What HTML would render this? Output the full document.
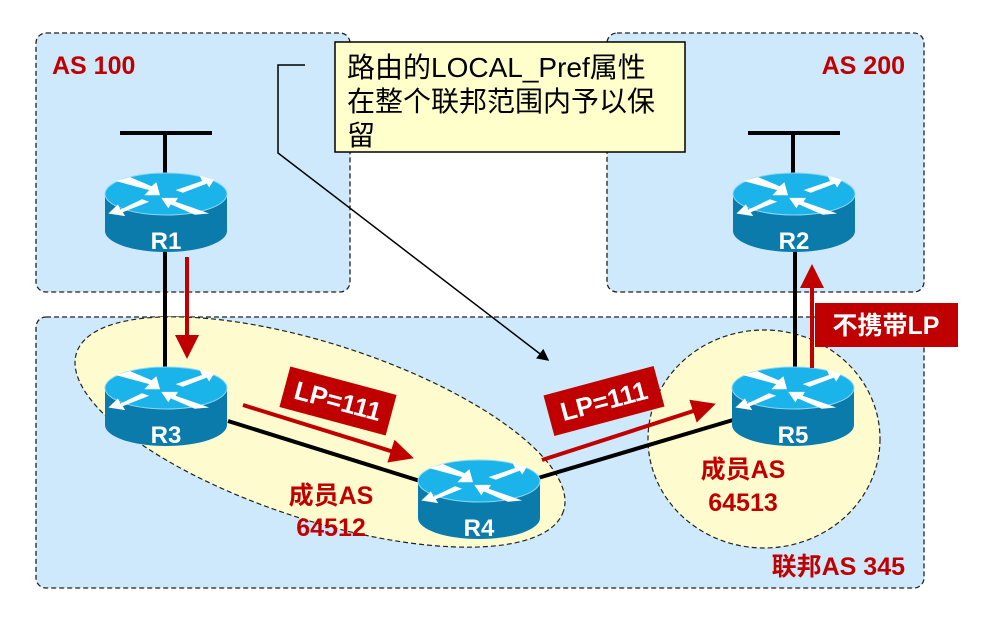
<!DOCTYPE html>
<html><head><meta charset="utf-8"><style>
body{margin:0;background:#fff;}
svg{display:block;}
text{font-family:"Liberation Sans","Noto Sans CJK SC",sans-serif;}
</style></head><body>
<svg width="990" height="617" viewBox="0 0 990 617" xmlns="http://www.w3.org/2000/svg">
<defs>
<marker id="ra" markerWidth="6" markerHeight="6" refX="5" refY="3" orient="auto" markerUnits="strokeWidth"><path d="M0,0 L6,3 L0,6 Z" fill="#c00000"/></marker>
<marker id="ka" markerWidth="8" markerHeight="8" refX="7" refY="4" orient="auto" markerUnits="strokeWidth"><path d="M0,0 L8,4 L0,8 Z" fill="#000"/></marker>
<g id="rt">
<path d="M-61,0 L-61,37 A61,21 0 0 0 61,37 L61,0 Z" fill="#0a7bab"/>
<ellipse cx="0" cy="0" rx="61" ry="21" fill="#1ab4ea" stroke="#8fd6f2" stroke-width="1"/>
<g fill="#fff" transform="scale(1.2 1.3)">
<path d="M-42,-10 L-30,-13 L-12,-6 L-8,-9 L-5,1 L-18,1 L-14,-3 Z"/>
<path d="M40,-11 L28,-14 L30,-10 L8,-3 L14,-1 L34,-8 L36,-5 Z"/>
<path d="M-20,4 L-38,12 L-40,8 L-48,15 L-34,17 L-36,14 L-14,6 Z"/>
<path d="M-4,3 L10,3 L8,6 L36,15 L24,16 L4,8 L2,11 Z"/>
</g>
</g>
</defs>
<rect x="36" y="33" width="314" height="259" rx="10" fill="#cde9fb" stroke="#222" stroke-width="1.3" stroke-dasharray="5,3"/>
<rect x="607" y="33" width="317" height="259" rx="10" fill="#cde9fb" stroke="#222" stroke-width="1.3" stroke-dasharray="5,3"/>
<rect x="36" y="317" width="888" height="271" rx="10" fill="#cde9fb" stroke="#222" stroke-width="1.3" stroke-dasharray="5,3"/>
<ellipse cx="320" cy="432" rx="256" ry="88" transform="rotate(18 320 432)" fill="#fefccf" stroke="#222" stroke-width="1.2" stroke-dasharray="5,3"/>
<ellipse cx="764" cy="439" rx="116" ry="109" fill="#fefccf" stroke="#222" stroke-width="1.2" stroke-dasharray="5,3"/>
<g stroke="#000" stroke-width="4" fill="none">
<line x1="120" y1="133" x2="212" y2="133"/><line x1="165" y1="133" x2="165" y2="176"/>
<line x1="748" y1="133" x2="840" y2="133"/><line x1="793" y1="133" x2="793" y2="176"/>
<line x1="165" y1="250" x2="165" y2="375"/>
<line x1="228" y1="421" x2="420" y2="481"/>
<line x1="538" y1="478" x2="733" y2="420"/>
<line x1="795" y1="250" x2="795" y2="370"/>
</g>
<polyline points="305,65 278,65 278,153 548,360" fill="none" stroke="#000" stroke-width="1.5" marker-end="url(#ka)"/>
<rect x="335" y="42" width="350" height="110" fill="#ffffcc" stroke="#000" stroke-width="1.5"/>
<text x="347" y="77" font-size="28" fill="#000">路由的LOCAL_Pref属性</text>
<text x="347" y="111" font-size="28" fill="#000">在整个联邦范围内予以保</text>
<text x="347" y="145" font-size="28" fill="#000">留</text>
<use href="#rt" x="166" y="194"/>
<use href="#rt" x="794" y="194"/>
<use href="#rt" x="166" y="388"/>
<use href="#rt" x="479" y="481"/>
<use href="#rt" x="793" y="388"/>
<g font-size="24" font-weight="bold" fill="#fff" text-anchor="middle">
<text x="166" y="249">R1</text><text x="794" y="249">R2</text>
<text x="166" y="443">R3</text><text x="479" y="536">R4</text><text x="793" y="443">R5</text>
</g>
<g stroke="#c00000" stroke-width="4" fill="none">
<line x1="187" y1="257" x2="187" y2="355" marker-end="url(#ra)"/>
<line x1="243" y1="405" x2="410" y2="457" marker-end="url(#ra)"/>
<line x1="542" y1="460" x2="712" y2="405" marker-end="url(#ra)"/>
<line x1="812" y1="368" x2="812" y2="268" marker-end="url(#ra)"/>
</g>
<g transform="translate(338,401) rotate(15)"><rect x="-55" y="-21" width="110" height="42" fill="#c00000"/><text x="0" y="9" font-size="26" font-weight="bold" fill="#fff" text-anchor="middle">LP=111</text></g>
<g transform="translate(604,401) rotate(-15)"><rect x="-57" y="-21" width="114" height="42" fill="#c00000"/><text x="0" y="9" font-size="26" font-weight="bold" fill="#fff" text-anchor="middle">LP=111</text></g>
<rect x="815" y="303" width="143" height="44" fill="#c00000"/>
<text x="886" y="334" font-size="25" font-weight="bold" fill="#fff" text-anchor="middle">不携带LP</text>
<g font-size="25" font-weight="bold" fill="#c00000">
<text x="52" y="74">AS 100</text>
<text x="905" y="74" text-anchor="end">AS 200</text>
<text x="905" y="575" text-anchor="end">联邦AS 345</text>
<text x="331" y="504" text-anchor="middle">成员AS</text>
<text x="331" y="536" text-anchor="middle">64512</text>
<text x="743" y="478" text-anchor="middle">成员AS</text>
<text x="743" y="511" text-anchor="middle">64513</text>
</g>
</svg>
</body></html>
